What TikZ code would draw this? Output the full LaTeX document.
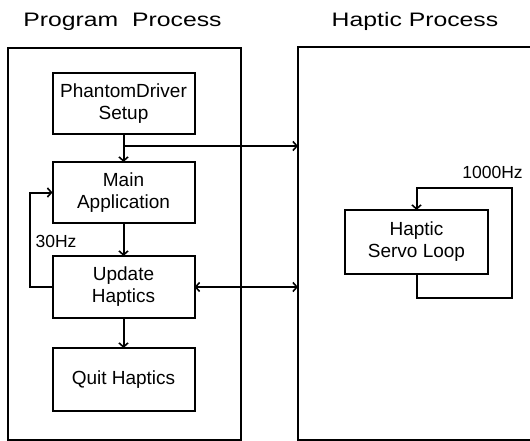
\documentclass[tikz,border=0pt]{standalone}
\usepackage{fontspec}
\setmainfont{Liberation Sans}
\usetikzlibrary{arrows.meta,calc}
\begin{document}
\begin{tikzpicture}[x=1pt,y=-1pt,
  every node/.style={inner sep=0pt,outer sep=0pt},
  line/.style={line width=2pt},
  box/.style={draw,line width=2pt,minimum width=142pt,align=center,
    font=\fontsize{19}{22}\selectfont},
  frame/.style={draw,line width=2pt},
  lbl/.style={font=\fontsize{17.5}{20}\selectfont},
  ttl/.style={anchor=base,font=\fontsize{19.5}{22}\selectfont},
  arr/.style={line,-{Straight Barb[length=4pt,width=9pt,line width=1.6pt]}},
  darr/.style={line,{Straight Barb[length=4pt,width=9pt,line width=1.6pt]}-{Straight Barb[length=4pt,width=9pt,line width=1.6pt]}}]
\useasboundingbox (0,0) rectangle (530,441);
% titles
\node[ttl] (t1) at (122.5,27) {\scalebox{1.27}[1]{Program\ \ Process}};
\node[ttl] (t2) at (415,27) {\scalebox{1.27}[1]{Haptic Process}};
% outer frames
\node[frame,minimum width=233pt,minimum height=392pt] (prog) at (124.5,244) {};
\node[frame,minimum width=262pt,minimum height=393pt] (hap) at (429,243.5) {};
% inner boxes
\node[box,minimum height=61pt] (ph) at (123.5,103.5) {PhantomDriver\\Setup};
\node[box,minimum height=61pt] (main) at (123.5,192.5) {Main\\Application};
\node[box,minimum height=62pt] (upd) at (123.5,287) {Update\\Haptics};
\node[box,minimum height=63pt] (quit) at (123.5,379.5) {Quit Haptics};
\node[box,minimum width=143pt,minimum height=64pt] (servo) at (416.5,242) {Haptic\\Servo Loop};
% labels
\node[lbl] (hz30) at (56,241) {30Hz};
\node[lbl] (hz1000) at (492.5,172) {1000Hz};
% connectors
\draw[arr] (ph.south) -- (main.north);
\coordinate (j) at ($(ph.south)+(0,12)$);
\draw[arr] (j) -- (hap.west |- j);
\draw[arr] (main.south) -- (upd.north);
\draw[arr] (upd.south) -- (quit.north);
\draw[arr] (upd.west) -- ++(-23,0) |- (main.west);
\draw[darr] (upd.east) -- (hap.west |- upd.east);
\coordinate (lp) at (512,188);
\draw[arr] (servo.south) -- ++(0,24) -| (lp) -| (servo.north);
\end{tikzpicture}
\end{document}
